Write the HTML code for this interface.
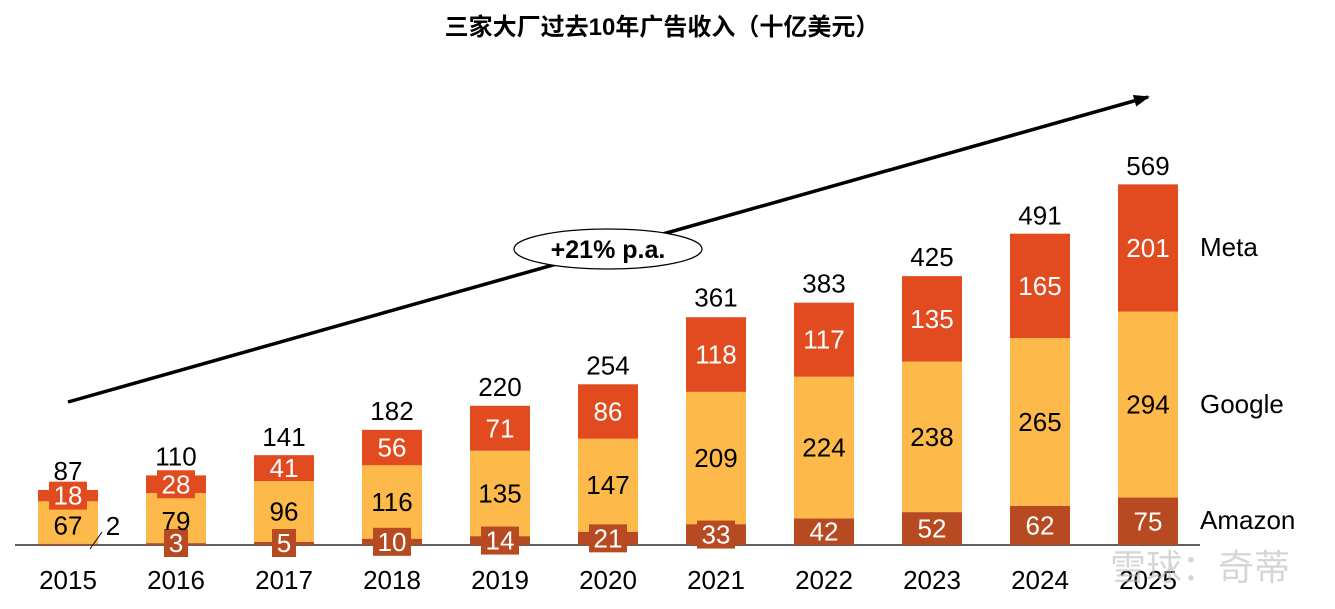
<!DOCTYPE html>
<html><head><meta charset="utf-8"><style>
body{margin:0;background:#fff;}
svg{display:block;font-family:"Liberation Sans","Noto Sans CJK SC",sans-serif;}
</style></head><body>
<svg id="chart" width="1335" height="609" viewBox="0 0 1335 609">
<text x="662" y="35" text-anchor="middle" font-size="24" font-weight="bold">三家大厂过去10年广告收入（十亿美元）</text>
<defs><marker id="ah" markerUnits="userSpaceOnUse" markerWidth="16" markerHeight="12" refX="14" refY="6" orient="auto"><path d="M0,0 L16,6 L0,12 Z" fill="#000"/></marker></defs>
<line x1="68" y1="402" x2="1148" y2="97" stroke="#000" stroke-width="3.5" marker-end="url(#ah)"/>
<ellipse cx="608" cy="249" rx="94" ry="20" fill="#fff" stroke="#000" stroke-width="1.2"/>
<text x="608" y="258" text-anchor="middle" font-size="25" font-weight="bold">+21% p.a.</text>
<line x1="15" y1="545" x2="1200" y2="545" stroke="#000" stroke-width="1.3"/>
<g id="bars"></g>
<text x="1200" y="256" font-size="26">Meta</text>
<text x="1200" y="413" font-size="26">Google</text>
<text x="1200" y="529" font-size="26">Amazon</text>
<text x="1200" y="580" font-size="36" fill="#bbb" opacity="0.6" text-anchor="middle">雪球：奇蒂</text>
</svg>
<script>
const years=["2015","2016","2017","2018","2019","2020","2021","2022","2023","2024","2025"];
const amazon=[2,3,5,10,14,21,33,42,52,62,75];
const google=[67,79,96,116,135,147,209,224,238,265,294];
const meta=[18,28,41,56,71,86,118,117,135,165,201];
const totals=[87,110,141,182,220,254,361,383,425,491,569];
const NS="http://www.w3.org/2000/svg";
const base=545,scale=360/569,x0=68,step=108,bw=60;
const xc=i=>x0+i*step, yv=v=>base-v*scale;
const g=document.getElementById("bars");
function mk(t,a){const e=document.createElementNS(NS,t);for(const k in a)e.setAttribute(k,a[k]);g.appendChild(e);return e;}
function lbl(text,cx,cy,fill,bg,h){
  if(bg&&h<24){const w=text.length*14+10;const r=mk("rect",{x:cx-w/2,y:cy-14,width:w,height:28,fill:bg});
  
  }
  const t=mk("text",{x:cx,y:cy+9,"text-anchor":"middle","font-size":26,fill:fill});t.textContent=text;
  
  
}
years.forEach((y,i)=>{
  const c=xc(i);
  const segs=[[amazon[i],"#B84A22","#fff","amazon"],[google[i],"#FDB94A","#000","google"],[meta[i],"#E24B1F","#fff","meta"]];
  let acc=0;const pos=[];
  segs.forEach(s=>{const y1=yv(acc+s[0]),y0=yv(acc);
    const r=mk("rect",{x:c-bw/2,y:y1,width:bw,height:y0-y1,fill:s[1]});
    
    
    pos.push([y1,y0]);acc+=s[0];});
  if(i===0){
    const l=mk("line",{x1:c+22,y1:base+4,x2:c+34,y2:base-13,stroke:"#000","stroke-width":1});
    
    
    const t=mk("text",{x:c+45,y:base-10,"text-anchor":"middle","font-size":26});t.textContent=amazon[i];
    
    
  } else {
    const h=pos[0][1]-pos[0][0];
    const cy=Math.min((pos[0][0]+pos[0][1])/2,base-2);
    lbl(String(amazon[i]),c,cy,"#fff","#B84A22",h);
  }
  const gh=pos[1][1]-pos[1][0];
  lbl(String(google[i]),c,(pos[1][0]+pos[1][1])/2+(i<2?3:0),"#000",null,gh);
  const mh=pos[2][1]-pos[2][0];
  lbl(String(meta[i]),c,(pos[2][0]+pos[2][1])/2,"#fff","#E24B1F",mh);
  const tt=mk("text",{x:c,y:yv(totals[i])-10,"text-anchor":"middle","font-size":26});tt.textContent=totals[i];
  
  
  const xl=mk("text",{x:c,y:589,"text-anchor":"middle","font-size":26});xl.textContent=y;
  
  
});
</script>
</body></html>
